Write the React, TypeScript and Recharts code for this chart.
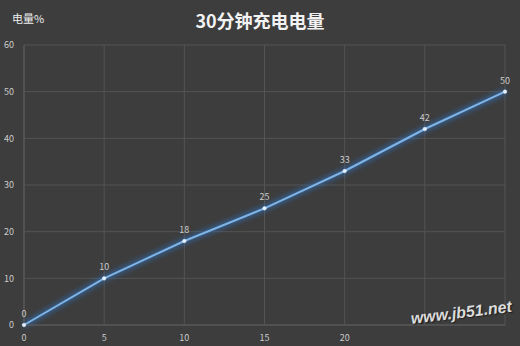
import React from "react";
import {
  LineChart,
  Line,
  XAxis,
  YAxis,
  CartesianGrid,
  LabelList,
} from "recharts";

// minutes on charger vs battery level (%)
const minutes = [0, 5, 10, 15, 20, 25, 30];
const level = [0, 10, 18, 25, 33, 42, 50];
const xTicks = [0, 5, 10, 15, 20, 25, 30];
const yTicks = [0, 10, 20, 30, 40, 50, 60];

const data = minutes.map((m, i) => ({ min: m, pct: level[i] }));

const font = '"Noto Sans CJK SC", "Noto Sans", sans-serif';

export default function App() {
  return (
    <div
      style={{
        position: "relative",
        width: 520,
        height: 346,
        background: "#3d3d3d",
        fontFamily: font,
        overflow: "hidden",
      }}
    >
      <style>{`body{margin:0}`}</style>
      <svg width={0} height={0} style={{ position: "absolute" }}>
        <defs>
          <filter id="glow" x="-20%" y="-20%" width="140%" height="140%">
            <feGaussianBlur stdDeviation="2.5" />
          </filter>
        </defs>
      </svg>
      <div
        style={{
          position: "absolute",
          top: 7,
          left: 0,
          width: 520,
          textAlign: "center",
          color: "#f2f2f2",
          fontSize: 18,
          fontWeight: 700,
        }}
      >
        30分钟充电电量
      </div>
      <div
        style={{
          position: "absolute",
          top: 10,
          left: 12,
          color: "#eeeeee",
          fontSize: 11,
        }}
      >
        电量%
      </div>
      <LineChart
        width={520}
        height={346}
        data={data}
        margin={{ top: 45, right: 15, left: 0, bottom: 0 }}
        style={{ position: "absolute", top: 0, left: 0 }}
      >
        <CartesianGrid stroke="#545454" strokeWidth={1} />
        <XAxis
          dataKey="min"
          type="number"
          domain={[0, 30]}
          ticks={xTicks}
          height={21}
          tickLine={false}
          axisLine={{ stroke: "#5a5a5a" }}
          tickMargin={4}
          tick={{ fill: "#cccccc", fontSize: 9 }}
          tickFormatter={(v: number) => (v > 20 ? "" : String(v))}
        />
        <YAxis
          type="number"
          domain={[0, 60]}
          ticks={yTicks}
          width={24}
          tickLine={false}
          axisLine={{ stroke: "#5a5a5a" }}
          tickMargin={4}
          tick={{ fill: "#cccccc", fontSize: 9 }}
        />
        {/* soft halo under the curve */}
        <Line
          dataKey="pct"
          type="linear"
          stroke="#2f72c0"
          strokeWidth={6}
          strokeOpacity={0.6}
          filter="url(#glow)"
          dot={false}
          activeDot={false}
          isAnimationActive={false}
        />
        <Line
          dataKey="pct"
          type="linear"
          stroke="#7fb4e6"
          strokeWidth={2}
          dot={{ r: 1.8, fill: "#e3f1ff", stroke: "#e3f1ff", strokeWidth: 0.5 }}
          activeDot={false}
          isAnimationActive={false}
        >
          <LabelList
            dataKey="pct"
            position="top"
            offset={8}
            fill="#cccccc"
            fontSize={9}
          />
        </Line>
      </LineChart>
      <div
        style={{
          position: "absolute",
          left: 412,
          top: 310,
          color: "#dcdcdc",
          fontFamily: '"Liberation Sans", Arial, sans-serif',
          fontSize: 16,
          fontStyle: "italic",
          fontWeight: 700,
          transform: "rotate(-7deg)",
          transformOrigin: "left bottom",
          textShadow: "1px 1px 1px #1e1e1e",
          whiteSpace: "nowrap",
        }}
      >
        www.jb51.net
      </div>
    </div>
  );
}
